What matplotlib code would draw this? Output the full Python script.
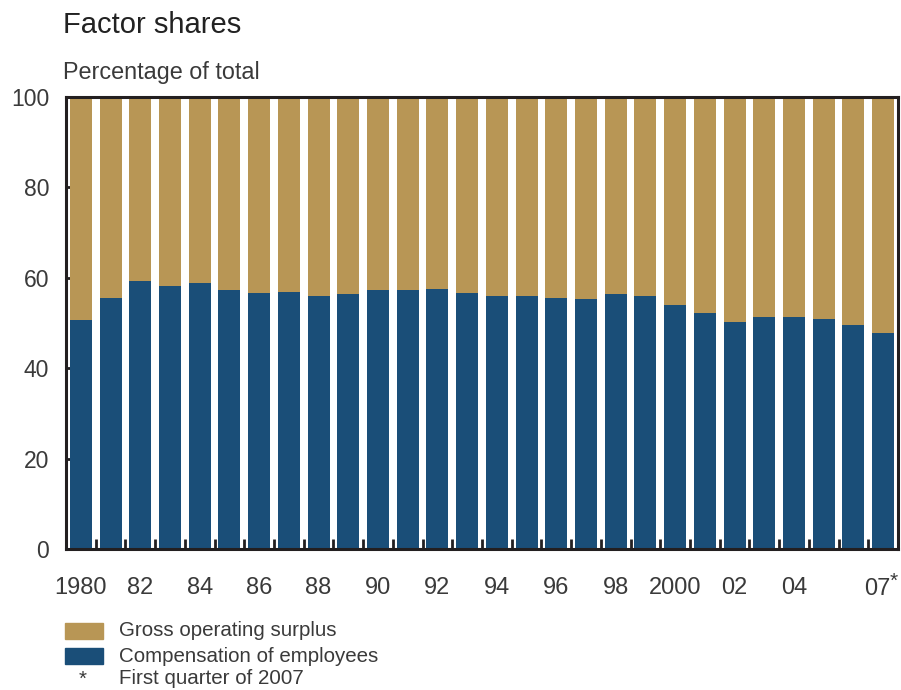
import matplotlib
matplotlib.use("Agg")
import matplotlib.pyplot as plt
import matplotlib.patches as mpatches
import numpy as np

plt.rcParams['font.family'] = ['Liberation Sans', 'DejaVu Sans']

# Factor shares, percentage of total (2007 = first quarter)
years = list(range(1980, 2008))
compensation = [50.7, 55.5, 59.3, 58.2, 58.8, 57.3, 56.6, 56.9, 56.0, 56.4,
                57.3, 57.3, 57.5, 56.6, 56.0, 56.0, 55.5, 55.3, 56.4, 56.0,
                54.0, 52.2, 50.2, 51.3, 51.3, 50.9, 49.6, 47.8]
surplus = [100 - c for c in compensation]
label_years = {1980: '1980', 1982: '82', 1984: '84', 1986: '86', 1988: '88',
               1990: '90', 1992: '92', 1994: '94', 1996: '96', 1998: '98',
               2000: '2000', 2002: '02', 2004: '04'}

gold = '#B89655'
blue = '#1A4E78'
dark = '#231F20'
txt = '#3a3a3a'

fig = plt.figure(figsize=(9.01, 6.90), dpi=100)
ax = fig.add_axes([66/901, 1 - 549/690, 832/901, 452/690])

x = np.arange(len(years))
ax.bar(x, compensation, width=0.74, color=blue, zorder=2)
ax.bar(x, surplus, bottom=compensation, width=0.74, color=gold, zorder=2)

ax.set_xlim(-0.5, len(years) - 0.5)
ax.set_ylim(0, 100)

for sp in ax.spines.values():
    sp.set_linewidth(2.2)
    sp.set_color(dark)
    sp.set_zorder(3)

# y ticks inside
ax.set_yticks([0, 20, 40, 60, 80, 100])
ax.tick_params(axis='y', direction='in', length=14, width=2, color=dark,
               labelsize=16.5, labelcolor=txt, pad=12)

# x: labels under bars, tick marks between bars
pos = [years.index(y) for y in label_years]
ax.set_xticks(pos)
ax.set_xticklabels(list(label_years.values()))
ax.tick_params(axis='x', which='major', length=0, labelsize=17,
               labelcolor=txt, pad=20)
ax.set_xticks(x[:-1] + 0.5, minor=True)
ax.tick_params(axis='x', which='minor', direction='in', length=7, width=2,
               color=dark)
# last label (first quarter of 2007) with its asterisk
i07 = years.index(2007)
ax.annotate('07', xy=(i07, 0), xycoords=('data', 'axes fraction'),
            xytext=(-4, -28.5), textcoords='offset points', fontsize=17,
            color=txt, ha='center', va='center', annotation_clip=False)
ax.annotate('*', xy=(i07, 0), xycoords=('data', 'axes fraction'),
            xytext=(4.5, -23.5), textcoords='offset points', fontsize=15,
            color=txt, ha='left', va='center', annotation_clip=False)

fig.text(63/901, 1 - 25/690, 'Factor shares', fontsize=21, color='#222222',
         va='center', ha='left')
fig.text(63/901, 1 - 72/690, 'Percentage of total', fontsize=16.8,
         color=txt, va='center', ha='left')

# legend drawn by hand below the plot
for yc, col, lab in [(631, gold, 'Gross operating surplus'),
                     (656, blue, 'Compensation of employees')]:
    fig.patches.append(mpatches.Rectangle((65/901, 1 - (yc + 8)/690),
                                          38/901, 16/690, color=col,
                                          transform=fig.transFigure))
    fig.text(119/901, 1 - yc/690, lab, fontsize=14.8, color=txt,
             va='center', ha='left')
fig.text(83/901, 1 - 679/690, '*', fontsize=14.8, color=txt,
         va='center', ha='center')
fig.text(119/901, 1 - 679/690, 'First quarter of 2007', fontsize=14.8,
         color=txt, va='center', ha='left')

fig.savefig('out.png', dpi=100)
